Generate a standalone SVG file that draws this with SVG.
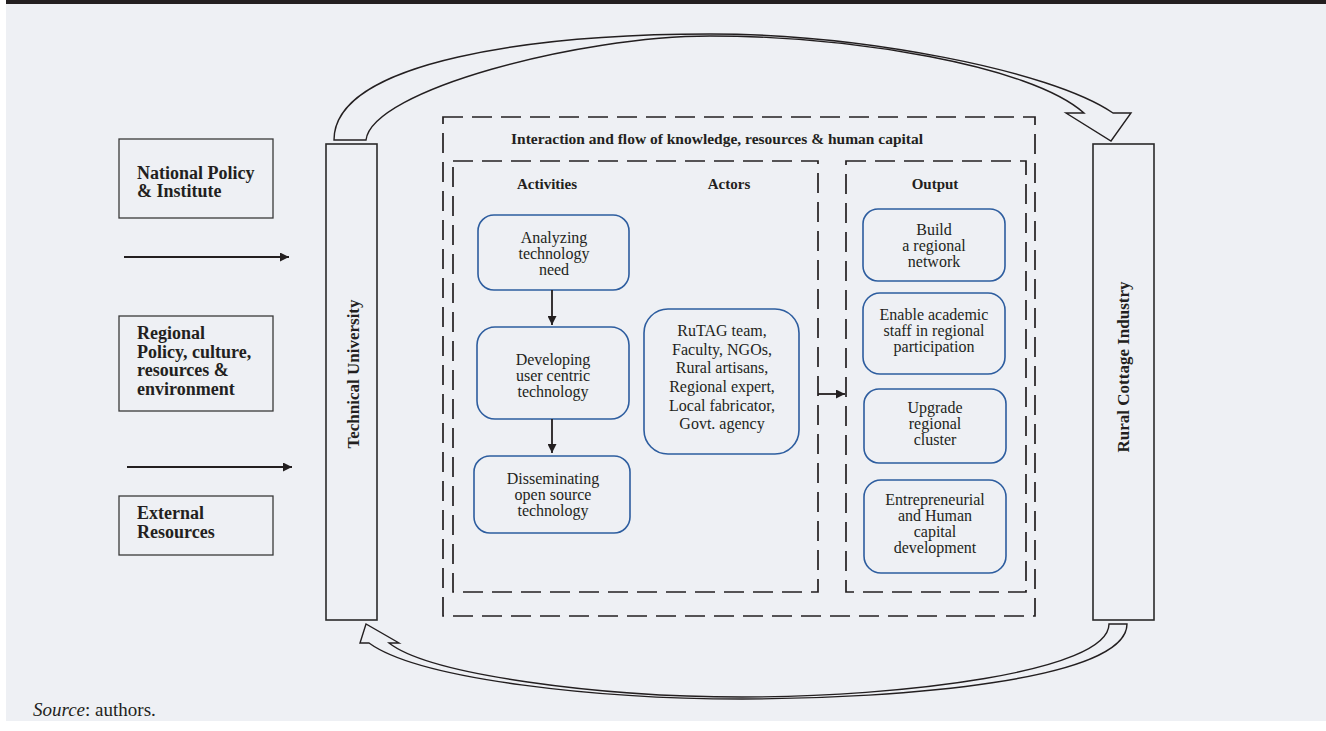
<svg xmlns="http://www.w3.org/2000/svg" width="1326" height="731" viewBox="0 0 1326 731">
<defs>
<style>
.bg{fill:#eef0f4}
.lbox{fill:none;stroke:#3a3a3a;stroke-width:1.3}
.bar{fill:none;stroke:#2a2a2a;stroke-width:1.6}
.dash{fill:none;stroke:#231f20;stroke-width:1.7;stroke-dasharray:20 9}
.blue{fill:none;stroke:#2d5d9f;stroke-width:1.6}
.big{fill:#eef0f4;stroke:#231f20;stroke-width:1.4;stroke-linejoin:miter}
.line{fill:none;stroke:#231f20;stroke-width:1.8}
.bold{font-family:"Liberation Serif",serif;font-weight:bold;fill:#231f20}
.reg{font-family:"Liberation Serif",serif;fill:#231f20;font-size:16px;text-anchor:middle}
.lt{font-size:18px}
.hd{font-size:15px;text-anchor:middle}
</style>
<marker id="ah" viewBox="0 0 10 10" refX="10" refY="5" markerWidth="5" markerHeight="5" orient="auto" markerUnits="strokeWidth">
<path d="M0,0 L10,5 L0,10 Z" fill="#231f20"/>
</marker>
</defs>
<rect x="0" y="0" width="1326" height="731" fill="#ffffff"/>
<rect class="bg" x="6" y="0" width="1320" height="721"/>
<rect x="6" y="0" width="1320" height="4" fill="#231f20"/>

<g id="national-policy">
<rect class="lbox" x="119" y="139" width="154" height="79"/>
<text class="bold lt" x="137" y="179">National Policy</text>
<text class="bold lt" x="137" y="197">&amp; Institute</text>
</g>
<g id="regional-policy">
<rect class="lbox" x="119" y="316" width="154" height="95"/>
<text class="bold lt" x="137" y="339">Regional</text>
<text class="bold lt" x="137" y="357.5">Policy, culture,</text>
<text class="bold lt" x="137" y="376">resources &amp;</text>
<text class="bold lt" x="137" y="394.5">environment</text>
</g>
<g id="external-resources">
<rect class="lbox" x="119" y="496" width="154" height="59"/>
<text class="bold lt" x="137" y="519">External</text>
<text class="bold lt" x="137" y="538">Resources</text>
</g>

<g id="technical-university">
<rect class="bar" x="326" y="144" width="51" height="476"/>
<text class="bold" font-size="17" text-anchor="middle" transform="translate(359,374) rotate(-90)">Technical University</text>
</g>
<g id="rural-cottage-industry">
<rect class="bar" x="1093" y="144" width="61" height="476"/>
<text class="bold" font-size="17" text-anchor="middle" transform="translate(1129,367) rotate(-90)">Rural Cottage Industry</text>
</g>

<g id="interaction-frame">
<rect class="dash" x="443" y="117" width="592" height="499"/>
<text class="bold" font-size="15" x="511" y="144" textLength="412" lengthAdjust="spacingAndGlyphs">Interaction and flow of knowledge, resources &amp; human capital</text>
</g>
<g id="activities-actors-frame">
<rect class="dash" x="453" y="161" width="365" height="431"/>
<text class="bold hd" x="547" y="189">Activities</text>
<text class="bold hd" x="729" y="189">Actors</text>
</g>
<g id="output-frame">
<rect class="dash" x="846" y="161" width="180" height="431"/>
<text class="bold hd" x="935" y="189">Output</text>
</g>

<g id="analyzing">
<rect class="blue" x="478" y="215" width="151" height="75" rx="16"/>
<text class="reg" x="554" y="243">Analyzing</text>
<text class="reg" x="554" y="259">technology</text>
<text class="reg" x="554" y="275">need</text>
</g>
<g id="developing">
<rect class="blue" x="477" y="327" width="152" height="92" rx="18"/>
<text class="reg" x="553" y="365">Developing</text>
<text class="reg" x="553" y="381">user centric</text>
<text class="reg" x="553" y="397">technology</text>
</g>
<g id="disseminating">
<rect class="blue" x="474" y="456" width="156" height="77" rx="16"/>
<text class="reg" x="553" y="484">Disseminating</text>
<text class="reg" x="553" y="500">open source</text>
<text class="reg" x="553" y="516">technology</text>
</g>
<g id="actors">
<rect class="blue" x="644" y="309" width="155" height="145" rx="24"/>
<text class="reg" x="722" y="336">RuTAG team,</text>
<text class="reg" x="722" y="355">Faculty, NGOs,</text>
<text class="reg" x="722" y="373">Rural artisans,</text>
<text class="reg" x="722" y="392">Regional expert,</text>
<text class="reg" x="722" y="411">Local fabricator,</text>
<text class="reg" x="722" y="429">Govt. agency</text>
</g>

<g id="output-network">
<rect class="blue" x="863" y="209" width="142" height="72" rx="15"/>
<text class="reg" x="934" y="235">Build</text>
<text class="reg" x="934" y="251">a regional</text>
<text class="reg" x="934" y="267">network</text>
</g>
<g id="output-academic">
<rect class="blue" x="863" y="293" width="142" height="81" rx="17"/>
<text class="reg" x="934" y="320">Enable academic</text>
<text class="reg" x="934" y="336">staff in regional</text>
<text class="reg" x="934" y="352">participation</text>
</g>
<g id="output-cluster">
<rect class="blue" x="864" y="389" width="142" height="74" rx="15"/>
<text class="reg" x="935" y="413">Upgrade</text>
<text class="reg" x="935" y="429">regional</text>
<text class="reg" x="935" y="445">cluster</text>
</g>
<g id="output-entrepreneurial">
<rect class="blue" x="864" y="480" width="142" height="93" rx="17"/>
<text class="reg" x="935" y="505">Entrepreneurial</text>
<text class="reg" x="935" y="521">and Human</text>
<text class="reg" x="935" y="537">capital</text>
<text class="reg" x="935" y="553">development</text>
</g>

<g id="connectors">
<line class="line" x1="124" y1="257" x2="289" y2="257" marker-end="url(#ah)"/>
<line class="line" x1="127" y1="467" x2="292" y2="467" marker-end="url(#ah)"/>
<line class="line" x1="552" y1="290" x2="552" y2="325" marker-end="url(#ah)"/>
<line class="line" x1="552" y1="419" x2="552" y2="453" marker-end="url(#ah)"/>
<line class="line" x1="818" y1="394" x2="845" y2="394" marker-end="url(#ah)"/>
<path class="big" d="M334,140 C334,60 540,34 710,34 C860,34 1050,70 1113,113 L1131,113 L1111,141 L1066,113 L1084,113 C1030,65 850,36 710,36 C580,36 372,90 366,140 Z"/>
<path class="big" d="M1127,624 C1127,680 900,699 742,699 C600,699 420,680 369,643 L360,643 L366,624 L399,643 L389,643 C430,675 600,697 742,697 C900,697 1109,672 1109,624 Z"/>
</g>

<text x="33" y="716" font-family="Liberation Serif, serif" font-size="19" fill="#231f20"><tspan font-style="italic">Source</tspan>: authors.</text>
</svg>
